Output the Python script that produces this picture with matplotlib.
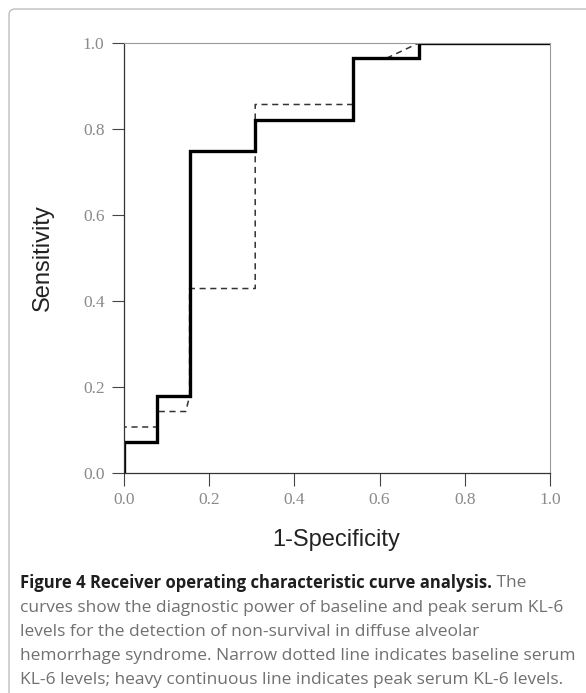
import matplotlib
matplotlib.use("Agg")
import matplotlib.pyplot as plt
from matplotlib.patches import FancyBboxPatch

# ROC vertices (1-specificity, sensitivity)
peak_fpr = [0.0, 0.0, 0.077, 0.077, 0.154, 0.154, 0.308, 0.308, 0.538, 0.538, 0.692, 0.692, 1.0]
peak_tpr = [0.0, 0.071, 0.071, 0.179, 0.179, 0.750, 0.750, 0.821, 0.821, 0.964, 0.964, 1.0, 1.0]

base_fpr = [0.0, 0.0, 0.077, 0.077, 0.145, 0.154, 0.154, 0.308, 0.308, 0.538, 0.538, 0.615, 0.692, 1.0]
base_tpr = [0.0, 0.107, 0.107, 0.143, 0.143, 0.179, 0.429, 0.429, 0.857, 0.857, 0.964, 0.964, 1.0, 1.0]

ticks = [0.0, 0.2, 0.4, 0.6, 0.8, 1.0]
tick_labels = ["0.0", "0.2", "0.4", "0.6", "0.8", "1.0"]

caption_bold = "Figure 4 Receiver operating characteristic curve analysis."
caption_lines = [
    " The",
    "curves show the diagnostic power of baseline and peak serum KL-6",
    "levels for the detection of non-survival in diffuse alveolar",
    "hemorrhage syndrome. Narrow dotted line indicates baseline serum",
    "KL-6 levels; heavy continuous line indicates peak serum KL-6 levels.",
]

W, H = 586, 693
fig = plt.figure(figsize=(W / 100, H / 100), dpi=100)

# light rounded frame, cut off at right and bottom
frame = FancyBboxPatch((0.09, -0.5), 6.2, H / 100 - 0.09 + 0.5,
                       boxstyle="round,pad=0,rounding_size=0.06",
                       transform=fig.dpi_scale_trans, fill=False,
                       edgecolor="#b8b8b8", lw=0.9)
fig.patches.append(frame)

ax = fig.add_axes([124 / W, 1 - 473 / H, 426 / W, 430 / H])
ax.plot(base_fpr, base_tpr, color="#333333", lw=1.1, ls=(0, (4, 3)))
ax.plot(peak_fpr, peak_tpr, color="black", lw=2.4, solid_joinstyle="miter")

ax.set_xlim(0, 1)
ax.set_ylim(0, 1)
ax.set_xticks(ticks)
ax.set_xticklabels(tick_labels)
ax.set_yticks(ticks)
ax.set_yticklabels(tick_labels)
ax.tick_params(direction="out", length=9, width=0.8, color="#444444",
               labelsize=12.5, labelcolor="#8a8a8a", pad=5)
for lab in ax.get_xticklabels() + ax.get_yticklabels():
    lab.set_family("Liberation Serif")

for s in ["left", "bottom"]:
    ax.spines[s].set_color("#333333")
    ax.spines[s].set_linewidth(0.9)
for s in ["top", "right"]:
    ax.spines[s].set_color("#9a9a9a")
    ax.spines[s].set_linewidth(0.8)
    ax.spines[s].set_linestyle((0, (2, 1)))

fig.text(43 / W, 1 - 258 / H, "Sensitivity", rotation=90, ha="center", va="center",
         fontsize=17, family="Liberation Sans", color="#222222")
fig.text(336 / W, 1 - 540 / H, "1-Specificity", ha="center", va="center",
         fontsize=17, family="Liberation Sans", color="#222222")

# caption
cap_x = 20 / W
line_y = [583, 608, 632, 656, 680]
bt = fig.text(cap_x, 1 - line_y[0] / H, caption_bold, ha="left", va="center",
              fontsize=12, family="Open Sans", weight="bold", color="#1e1e1e")
fig.canvas.draw()
bb = bt.get_window_extent(fig.canvas.get_renderer())
fig.text(bb.x1 / W, 1 - line_y[0] / H, caption_lines[0], ha="left", va="center",
         fontsize=12.5, family="Open Sans", color="#707070")
for txt, y in zip(caption_lines[1:], line_y[1:]):
    fig.text(cap_x, 1 - y / H, txt, ha="left", va="center",
             fontsize=12.5, family="Open Sans", color="#707070")

fig.savefig("out.png", dpi=100)
